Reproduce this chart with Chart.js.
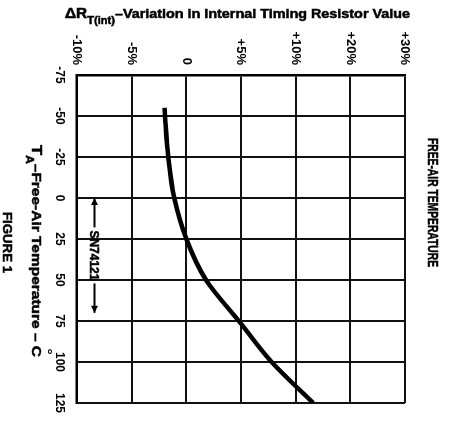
<!DOCTYPE html>
<html lang="en">
<head>
    <meta charset="UTF-8">
    <title>Internal Timing Resistor Variation</title>
    <script src="https://cdn.jsdelivr.net/npm/chart.js"></script>
    <style>
        html, body {
            margin: 0;
            padding: 0;
            background: #fff;
            overflow: hidden;
        }

        /* the page is drawn upright, then turned a quarter clockwise like the scan */
        #wrap {
            position: absolute;
            left: 0;
            top: 0;
            width: 424px;
            height: 451px;
            transform-origin: 0 0;
            transform: translate(451px, 0) rotate(90deg);
        }
    </style>
</head>
<body>
    <div id="wrap">
        <canvas id="chart" width="424" height="451"></canvas>
    </div>

    <script>
        // free-air temperature, deg C
        const temps = [-55, -50, -25, 0, 25, 50, 75, 100, 125];
        // variation, in grid divisions of 5% each (as drawn)
        const deltaR = [-2.0, -1.95, -1.65, -1.1, 0, 1.8, 4.8, 7.8, 11.6];

        const xTicks = [-75, -50, -25, 0, 25, 50, 75, 100, 125];
        const yTickLabels = ['-10%', '-5%', '0', '+5%', '+10%', '+20%', '+30%'];

        // SN74121 operating range marker
        const rangeTemps = [0, 70];
        const rangeLevel = -8.4;

        const FONT = "'Liberation Sans', Arial, sans-serif";

        // draw text squeezed or stretched to a given width
        function fitText(ctx, text, x, y, size, width) {
            ctx.font = 'bold ' + size + 'px ' + FONT;
            const w = ctx.measureText(text).width;
            ctx.save();
            ctx.translate(x, y);
            ctx.scale(width / w, 1);
            ctx.textAlign = 'left';
            ctx.fillText(text, 0, 0);
            ctx.strokeText(text, 0, 0);
            ctx.restore();
        }

        // pieces: [text, size, dy, mark above]
        function drawParts(ctx, parts, cx, y, width) {
            let total = 0;
            parts.forEach(p => {
                ctx.font = 'bold ' + p[1] + 'px ' + FONT;
                p.w = ctx.measureText(p[0]).width;
                total += p.w;
            });
            const k = width / total;
            ctx.save();
            ctx.translate(cx - width / 2, y);
            ctx.scale(k, 1);
            ctx.textAlign = 'left';
            let x = 0;
            parts.forEach(p => {
                ctx.font = 'bold ' + p[1] + 'px ' + FONT;
                ctx.fillText(p[0], x, p[2]);
                ctx.strokeText(p[0], x, p[2]);
                if (p[3]) {
                    ctx.fillText(p[3], x + p.w * 0.25, p[2] - 11);
                }
                x += p.w;
            });
            ctx.restore();
        }

        const labelsPlugin = {
            id: 'labels',
            afterDraw(chart) {
                const ctx = chart.ctx;
                const xs = chart.scales.x;
                const ys = chart.scales.y;
                ctx.save();
                ctx.fillStyle = '#000';
                ctx.strokeStyle = '#000';
                ctx.lineWidth = 0.5;
                ctx.textBaseline = 'alphabetic';

                // heading
                fitText(ctx, 'FREE-AIR TEMPERATURE', 138, 23, 14, 129);

                // vertical axis title
                ctx.save();
                ctx.translate(18, 213.5);
                ctx.rotate(-Math.PI / 2);
                drawParts(ctx, [
                    ['\u0394R', 14, 0],
                    ['T(int)', 10, 6],
                    ['\u2013Variation in Internal Timing Resistor Value', 13, 0]
                ], 0, 0, 345);
                ctx.restore();

                // horizontal axis title
                drawParts(ctx, [
                    ['T', 14, 0],
                    ['A', 10, 6],
                    ['\u2013Free-Air Temperature \u2013 ', 13, 0],
                    ['C', 13, 0, '\u00b0']
                ], 251, 419, 212);

                fitText(ctx, 'FIGURE 1', 212, 448, 13, 61);

                // SN74121 range arrow
                const yy = ys.getPixelForValue(rangeLevel);
                const x0 = xs.getPixelForValue(rangeTemps[0]);
                const x1 = xs.getPixelForValue(rangeTemps[1]);
                const mid = (x0 + x1) / 2;
                ctx.font = 'bold 12px ' + FONT;
                const tw = ctx.measureText('SN74121').width;
                ctx.lineWidth = 2;
                ctx.beginPath();
                ctx.moveTo(x0, yy);
                ctx.lineTo(mid - tw / 2 - 3, yy);
                ctx.moveTo(mid + tw / 2 + 3, yy);
                ctx.lineTo(x1, yy);
                ctx.stroke();
                ctx.beginPath();
                ctx.moveTo(x0, yy);
                ctx.lineTo(x0 + 7, yy - 3.5);
                ctx.lineTo(x0 + 7, yy + 3.5);
                ctx.closePath();
                ctx.moveTo(x1, yy);
                ctx.lineTo(x1 - 7, yy - 3.5);
                ctx.lineTo(x1 - 7, yy + 3.5);
                ctx.closePath();
                ctx.fill();
                ctx.textAlign = 'center';
                ctx.textBaseline = 'middle';
                ctx.lineWidth = 0.5;
                ctx.fillText('SN74121', mid, yy + 1);
                ctx.strokeText('SN74121', mid, yy + 1);

                ctx.restore();
            }
        };

        const ctx = document.getElementById('chart').getContext('2d');
        new Chart(ctx, {
            type: 'line',
            data: {
                datasets: [{
                    data: temps.map((t, i) => ({ x: t, y: deltaR[i] })),
                    borderColor: '#000',
                    borderWidth: 4.5,
                    pointRadius: 0,
                    cubicInterpolationMode: 'monotone',
                    fill: false
                }]
            },
            options: {
                responsive: false,
                animation: false,
                devicePixelRatio: 1,
                layout: {
                    padding: { left: 0, right: 21, top: 46, bottom: 0 }
                },
                plugins: {
                    legend: { display: false },
                    tooltip: { enabled: false }
                },
                scales: {
                    x: {
                        type: 'linear',
                        min: -75,
                        max: 125,
                        afterBuildTicks: s => { s.ticks = xTicks.map(v => ({ value: v })); },
                        afterFit: s => { s.height = 77; },
                        ticks: {
                            color: '#000',
                            padding: 10,
                            maxRotation: 0,
                            font: { family: FONT, size: 12, weight: 'bold' }
                        },
                        grid: { color: '#111', lineWidth: 2, drawTicks: false },
                        border: { color: '#000', width: 2.5 }
                    },
                    y: {
                        type: 'linear',
                        min: -10,
                        max: 20,
                        afterFit: s => { s.width = 75; },
                        ticks: {
                            stepSize: 5,
                            color: '#000',
                            padding: 10,
                            callback: v => yTickLabels[Math.round((v + 10) / 5)],
                            font: { family: FONT, size: 13, weight: 'bold' }
                        },
                        grid: { color: '#111', lineWidth: 2, drawTicks: false },
                        border: { color: '#000', width: 2.5 }
                    }
                }
            },
            plugins: [labelsPlugin]
        });
    </script>
</body>
</html>
